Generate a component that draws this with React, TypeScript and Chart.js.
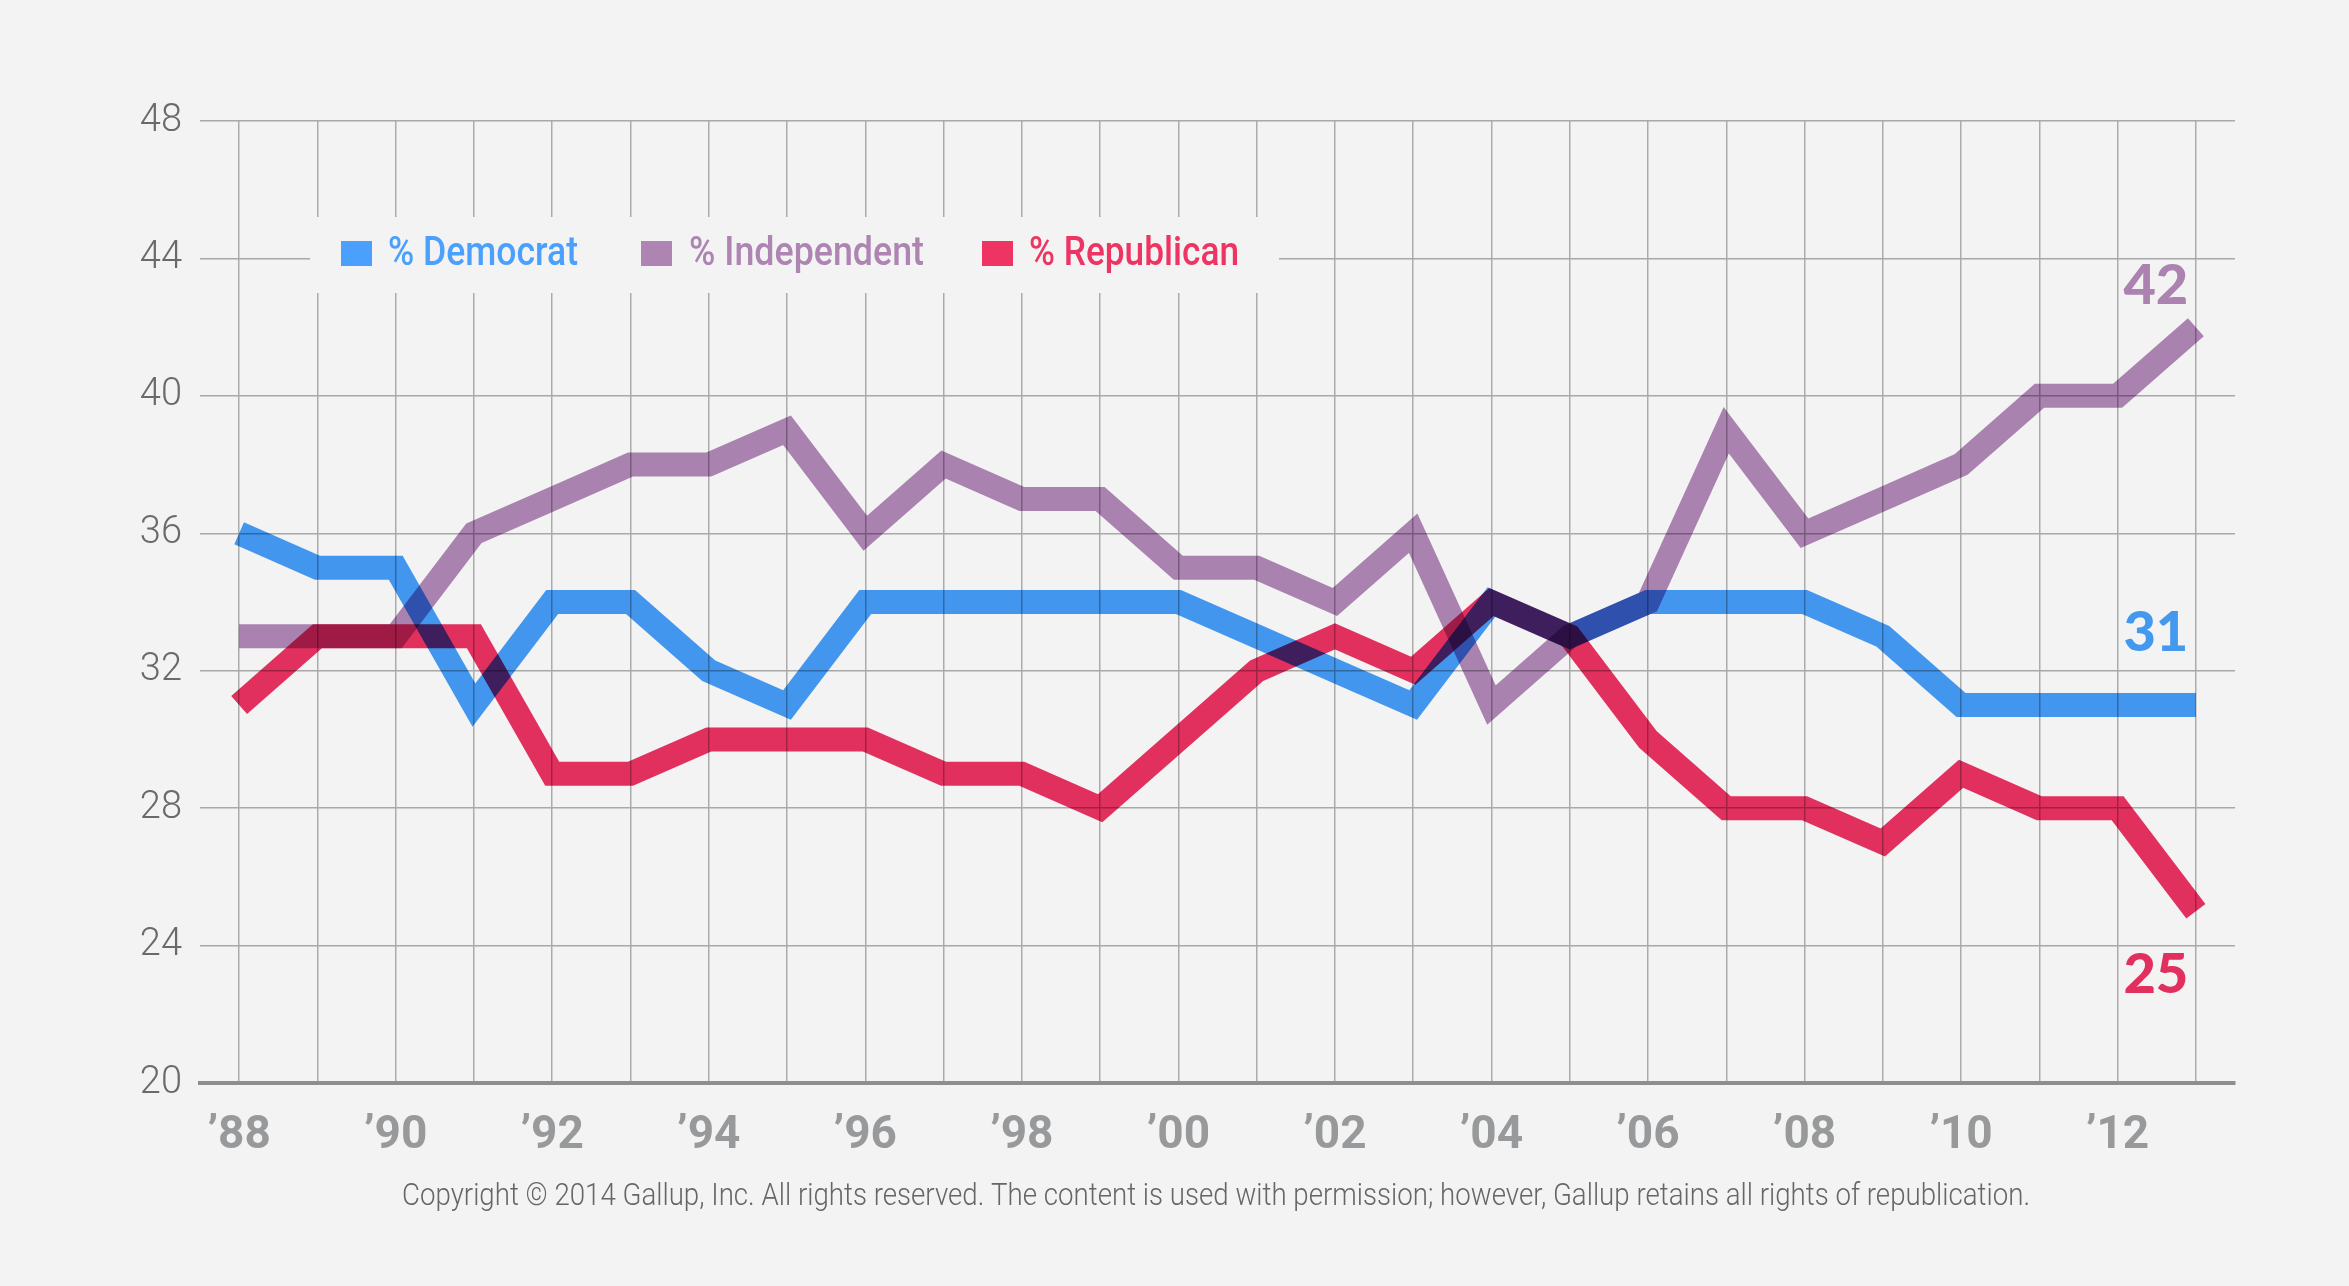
import React, { useEffect, useRef } from "react";
import { Chart, registerables } from "chart.js";

Chart.register(...registerables);

// ---------- data ----------
const years = [
  1988, 1989, 1990, 1991, 1992, 1993, 1994, 1995, 1996, 1997, 1998, 1999, 2000,
  2001, 2002, 2003, 2004, 2005, 2006, 2007, 2008, 2009, 2010, 2011, 2012, 2013,
];
const tickLabels = [
  "’88", "", "’90", "", "’92", "", "’94", "", "’96", "", "’98", "", "’00",
  "", "’02", "", "’04", "", "’06", "", "’08", "", "’10", "", "’12", "",
];
const democrat = [36, 35, 35, 31, 34, 34, 32, 31, 34, 34, 34, 34, 34, 33, 32, 31, 34, 33, 34, 34, 34, 33, 31, 31, 31, 31];
const independent = [33, 33, 33, 36, 37, 38, 38, 39, 36, 38, 37, 37, 35, 35, 34, 36, 31, 33, 34, 39, 36, 37, 38, 40, 40, 42];
const republican = [31, 33, 33, 33, 29, 29, 30, 30, 30, 29, 29, 28, 30, 32, 33, 32, 34, 33, 30, 28, 28, 27, 29, 28, 28, 25];
const seriesNames = ["% Democrat", "% Independent", "% Republican"];
const yMin = 20;
const yMax = 48;
const yStep = 4;
const copyright =
  "Copyright © 2014 Gallup, Inc. All rights reserved. The content is used with permission; however, Gallup retains all rights of republication.";

// ---------- styles ----------
const BG = "#f3f3f3";
const LINE_COLORS = ["rgb(70,157,250)", "rgb(179,136,185)", "rgb(238,50,99)"];
const LEGEND_COLORS = ["#4aa0fc", "#ad84b2", "#ee3462"];
const LABEL_COLORS = ["#4498ee", "#ab82b0", "#e2305e"];

function fitText(
  ctx: CanvasRenderingContext2D,
  text: string,
  x: number,
  y: number,
  width: number,
  font: string,
  color: string
) {
  ctx.save();
  ctx.font = font;
  ctx.fillStyle = color;
  ctx.textAlign = "left";
  ctx.textBaseline = "alphabetic";
  const w = ctx.measureText(text).width;
  ctx.translate(x, y);
  ctx.scale(width / w, 1);
  ctx.fillText(text, 0, 0);
  ctx.restore();
}

const bgPlugin = {
  id: "bgFill",
  beforeDraw(chart: any) {
    const { ctx, width, height } = chart;
    ctx.save();
    ctx.fillStyle = BG;
    ctx.fillRect(0, 0, width, height);
    ctx.restore();
  },
};

const overlayPlugin = {
  id: "overlay",
  beforeDatasetsDraw(chart: any) {
    const ctx: CanvasRenderingContext2D = chart.ctx;
    const ca = chart.chartArea;
    // legend box covering the grid
    ctx.save();
    ctx.fillStyle = BG;
    ctx.fillRect(ca.left + 110, ca.top + 96, 969, 76);
    const items = [
      { sq: 341, tx: 388, tw: 190 },
      { sq: 641, tx: 689, tw: 235 },
      { sq: 982, tx: 1029, tw: 210 },
    ];
    items.forEach((it, i) => {
      ctx.fillStyle = LEGEND_COLORS[i];
      ctx.fillRect(it.sq, 241, 31, 25);
      fitText(ctx, seriesNames[i], it.tx, 265, it.tw, "500 40px Roboto, 'Noto Sans', sans-serif", LEGEND_COLORS[i]);
    });
    ctx.restore();
    ctx.save();
    ctx.globalCompositeOperation = "multiply";
  },
  afterDatasetsDraw(chart: any) {
    const ctx: CanvasRenderingContext2D = chart.ctx;
    ctx.restore();
    const xs = chart.scales.x;
    const ys = chart.scales.y;
    const last = years.length - 1;
    const series = [democrat, independent, republican];
    const offsets = [-72, -41, 64];
    ctx.save();
    ctx.font = "900 56px Lato, 'DejaVu Sans', sans-serif";
    ctx.textAlign = "center";
    ctx.textBaseline = "middle";
    series.forEach((s, i) => {
      const x = xs.getPixelForValue(last) - 40;
      const y = ys.getPixelForValue(s[last]) + offsets[i];
      ctx.fillStyle = LABEL_COLORS[i];
      ctx.fillText(String(s[last]), x, y);
    });
    ctx.restore();
    fitText(ctx, copyright, 402, 1205, 1628, "300 32px Roboto, 'Noto Sans', sans-serif", "#666666");
  },
};

export default function App() {
  const ref = useRef<HTMLCanvasElement>(null);
  useEffect(() => {
    document.body.style.margin = "0";
    document.body.style.background = BG;
    const chart = new Chart(ref.current as HTMLCanvasElement, {
      type: "line",
      data: {
        labels: years.map(String),
        datasets: [democrat, independent, republican].map((d, i) => ({
          label: seriesNames[i],
          data: d,
          borderColor: LINE_COLORS[i],
          backgroundColor: LINE_COLORS[i],
          borderWidth: 24,
          borderJoinStyle: "miter" as const,
          borderCapStyle: "butt" as const,
          pointRadius: 0,
          tension: 0,
          fill: false,
        })),
      },
      options: {
        animation: false,
        responsive: false,
        devicePixelRatio: 1,
        layout: { padding: { left: 0, right: 114, top: 121, bottom: 0 } },
        plugins: {
          legend: { display: false },
          tooltip: { enabled: false },
          title: { display: false },
        },
        scales: {
          x: {
            type: "category",
            offset: true,
            afterFit(scale: any) {
              scale.height = 203;
            },
            grid: {
              display: true,
              offset: false,
              drawTicks: false,
              color: "#ababab",
              lineWidth: 1.5,
            },
            border: { display: true, color: "#8e8e8e", width: 4 },
            ticks: {
              autoSkip: false,
              maxRotation: 0,
              minRotation: 0,
              padding: 26,
              color: "#97999b",
              font: { family: "Roboto, 'Noto Sans', sans-serif", size: 46, weight: "bold" },
              callback: (_v: any, i: number) => tickLabels[i],
            },
          },
          y: {
            min: yMin,
            max: yMax,
            afterFit(scale: any) {
              scale.width = 200;
            },
            grid: {
              display: true,
              drawTicks: false,
              color: "#a8a8a8",
              lineWidth: 1.5,
            },
            border: { display: false },
            ticks: {
              stepSize: yStep,
              padding: 18,
              color: "#6a6a6a",
              font: { family: "Roboto, 'Noto Sans', sans-serif", size: 38, weight: "300" },
            },
          },
        },
      },
      plugins: [bgPlugin, overlayPlugin],
    } as any);
    return () => chart.destroy();
  }, []);
  return (
    <div style={{ width: 2349, height: 1286, background: BG }}>
      <canvas ref={ref} width={2349} height={1286} style={{ display: "block" }} />
    </div>
  );
}
